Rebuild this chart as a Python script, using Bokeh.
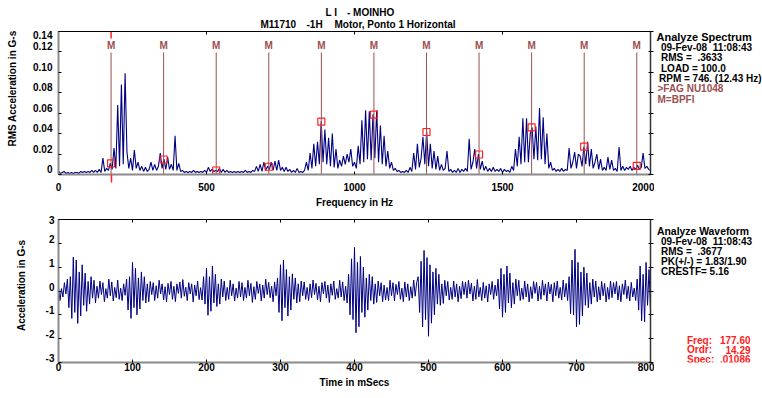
import numpy as np
from math import pi
from bokeh.plotting import figure
from bokeh.models import Range1d, LinearAxis, FixedTicker
from bokeh.layouts import column, row
from bokeh.embed import file_html
from bokeh.resources import INLINE
from bokeh.core.properties import value

FONT = "Liberation Sans"
NAVY = "#000080"
BROWN = "#9b4f4f"
RED = "#ff2020"
NB = "\u00a0"

# ---------------- data ----------------
spec_step_hz = 6.25
spec_amp = [
    .003, .001, .002, .003, .001, .002, .001, .002, .001, .002, .002, .001, .003, .002, .003, .002, .003, .002, .004, .002, .004, .002, .005,
    .002, .016, .003, .006, .004, .011, .005, .026, .006, .068, .008, .088, .010, .099, .022, .006, .016, .004, .024, .006, .012, .004, .008, .003,
    .007, .003, .005, .012, .004, .010, .004, .008, .021, .006, .015, .005, .017, .005, .010, .004, .038, .004, .011, .003, .004, .002,
    .003, .002, .003, .002, .004, .002, .003, .002, .003, .002, .004, .002, .007, .003,
    .005, .003, .004, .003, .006, .002, .005, .002, .004, .002, .003, .002, .003,
    .002, .003, .002, .003, .002, .004, .002, .003, .002, .004, .003,
    .008, .003, .010, .003, .012, .004, .008, .005, .012, .004, .013, .004, .014, .004, .007, .003, .007, .003,
    .005, .002, .004, .002, .006, .002, .003, .002, .004,
    .012, .004, .021, .006, .030, .008, .032, .010, .052, .012, .044, .010, .036, .008, .040, .007, .025, .006, .014, .008, .018, .010, .020, .012,
    .025, .008, .012, .006, .028, .010, .053, .012, .063, .015, .062, .014, .059, .016, .063, .012, .048, .010, .038, .008, .023, .006,
    .012, .004, .006, .003, .004, .002, .003, .002, .004, .002, .007, .003, .021, .005, .030, .007, .016, .037, .010, .042,
    .008, .030, .006, .023, .005, .018, .004, .010, .004, .006, .023, .003, .005, .002, .004, .002, .006, .002, .005, .003, .006, .003,
    .035, .005, .012, .025, .006, .020, .005, .013, .004, .008, .003, .006, .003, .007, .003, .005, .003, .006, .002, .005, .003, .004, .002, .008,
    .004, .025, .008, .037, .010, .055, .012, .055, .012, .040, .046, .015, .047, .014, .065, .015, .056, .010, .040, .006,
    .012, .004, .006, .003, .005, .003, .006, .003, .005, .004,
    .026, .006, .012, .022, .006, .020, .018, .008, .027, .010, .032, .008, .025, .006, .012, .020, .005, .015, .004, .007, .004, .017,
    .005, .014, .004, .006, .003, .027, .004, .008, .004, .007, .005, .008, .004, .007, .005, .009, .005, .007, .021, .006, .008, .005, .004,
]
bpfi_freq = [177.6, 355.2, 532.8, 710.4, 888.0, 1065.6, 1243.2, 1420.8, 1598.4, 1776.0, 1953.6]
bpfi_amp = [.0109, .0147, .0039, .0076, .0517, .0586, .0416, .0196, .0461, .0272, .0085]
cursor_freq = 177.60

wave_step_ms = 2.0
wave_amp = [
    .15, -.4, .1, -.25, .35, -.12, .5, -.7, .6, -1.15, 1.42, -.9, 1.3, -1.36, .8, -1.05, 1.1, -.6, .75, -.85, .4, -.55, .6, -.3, .45,
    -.5, .2, -.3, .42, -.15, .35, -.45, .1, -.3, .5, -.2, .38, -.42, .15, -.28, .46, -.35, .12, -.4, .3, -.18, .5, -.8, .6, -1.15,
    1.2, -.7, .95, -1.0, .55, -.75, .8, -.4, .6, -.5, .3, -.45, .4, -.15, .35, -.4, .22, -.3, .45, -.12, .3, -.38, .18, -.45, .32,
    -.15, .4, -.35, .2, -.45, .3, -.1, .38, -.3, .48, -.22, .16, -.4, .35, -.12, .3, -.46, .25, -.2, .42, -.36, .14, -.38, .6, -.55,
    .95, -1.02, .6, -.85, 1.05, -.5, .7, -.65, .3, -.55, .5, -.25, .42, -.4, .15, -.35, .45, -.2, .3, -.42, .12, -.3, .4, -.25, .35,
    -.4, .15, -.3, .45, -.2, .32, -.48, .18, -.35, .4, -.1, .3, -.42, .25, -.3, .5, -.15, .36, -.28, .2, -.45, .38, -.2, .55, -.9,
    1.1, -1.25, 1.3, -.7, .9, -1.05, .6, -.8, .72, -.35, .55, -.5, .3, -.45, .42, -.2, .38, -.35, .15, -.4, .3, -.28, .46, -.15, .32,
    -.38, .2, -.45, .35, -.12, .4, -.3, .25, -.48, .3, -.18, .42, -.35, .1, -.3, .45, -.25, .38, -.4, .2, -.5, .7, -1.0, 1.35, -1.2,
    1.83, -1.75, 1.2, -1.5, 1.45, -.9, 1.0, -1.1, .55, -.8, .7, -.4, .6, -.55, .3, -.48, .42, -.2, .35, -.45, .25, -.38, .15, -.4, .45,
    -.2, .35, -.42, .28, -.15, .4, -.35, .12, -.45, .38, -.25, .3, -.4, .18, -.3, .46, -.22, .35, .6, -.9, 1.25, -1.5, 1.7, -1.2, 1.4,
    -1.9, 1.1, -1.35, .8, -1.0, .95, -.55, .7, -.6, .3, -.52, .45, -.2, .4, -.38, .15, -.35, .42, -.25, .3, -.45, .2, -.32, .4, -.15,
    .38, -.3, .45, -.12, .32, -.42, .2, -.35, .48, -.25, .15, -.4, .36, -.3, .22, -.46, .3, -.15, .4, -.35, .25, -.2, .5, -.75, .95,
    -1.1, .7, -.9, 1.05, -.5, .75, -.7, .35, -.55, .5, -.2, .45, -.4, .12, -.35, .42, -.25, .3, -.46, .18, -.32, .4, -.1, .36, -.42,
    .2, -.35, .45, -.18, .3, -.42, .38, -.12, .28, -.45, .35, -.2, .42, -.3, .15, -.38, .46, -.25, .32, -.4, .6, -.95, 1.3, -1.0, 1.75,
    -1.5, 1.2, -1.4, .8, -1.05, 1.0, -.6, .75, -.7, .35, -.55, .5, -.25, .42, -.45, .18, -.38, .4, -.2, .32, -.46, .15, -.35, .42, -.28,
    .35, -.12, .4, -.38, .22, -.45, .3, -.15, .46, -.32, .2, -.42, .36, -.25, .12, -.4, .5, -.8, 1.05, -1.25, .7, -1.3, 1.2, -.6, .9,
    -.8,
]

spec_xticks = [0, 500, 1000, 1500, 2000]
spec_yticks = [0, 0.02, 0.04, 0.06, 0.08, 0.10, 0.12, 0.14]
spec_ytick_labels = ["0", "0.02", "0.04", "0.06", "0.08", "0.10", "0.12", "0.14"]
wave_xticks = [0, 100, 200, 300, 400, 500, 600, 700, 800]
wave_yticks = [-3, -2, -1, 0, 1, 2, 3]
wave_ytick_labels = ["-3", "-2", "-1", "0", "1", "2", "3"]

title_line1 = ["L I", "- MOINHO"]
title_line2 = ["M11710", "-1H", "Motor, Ponto 1 Horizontal"]
spec_info = ["Analyze Spectrum", "09-Fev-08" + NB * 2 + "11:08:43", "RMS =" + NB * 2 + ".3633",
             "LOAD = 100.0", "RPM = 746. (12.43 Hz)", ">FAG NU1048", "M=BPFI"]
wave_info = ["Analyze Waveform", "09-Fev-08" + NB * 2 + "11:08:43", "RMS =" + NB * 2 + ".3677",
             "PK(+/-) = 1.83/1.90", "CRESTF= 5.16"]
cursor_names = ["Freq:", "Ordr:", "Spec:"]
cursor_values = ["177.60", "14.29", ".01086"]

spec_freq = np.arange(len(spec_amp)) * spec_step_hz
wave_time = np.arange(len(wave_amp)) * wave_step_ms

# ---------------- geometry (page pixels) ----------------
W_LEFT, W_PLOT, W_RIGHT = 27, 627, 108
H_TITLE, H_TOP, H_BOT = 30, 180, 188
H_ALL = H_TITLE + H_TOP + H_BOT
SPX = 0.14 / 143   # data per pixel, spectrum y
WPX = 6.0 / 143    # data per pixel, waveform y


def sy(py):  # page y -> spectrum data (frame 31..174)
    return (174 - py) * SPX


def text_canvas(w, h, x0, y0):
    p = figure(width=w, height=h, x_range=Range1d(x0, x0 + w), y_range=Range1d(y0 + h, y0),
               output_backend="svg", toolbar_location=None, tools="",
               x_axis_location=None, y_axis_location=None,
               min_border_left=0, min_border_right=0, min_border_top=0, min_border_bottom=0)
    p.outline_line_color = None
    p.grid.visible = False
    return p


def put(p, xs, ys, texts, color="black", size="10px", align="left", angle=0.0):
    p.text(x=xs, y=ys, text=texts, text_font=value(FONT), text_font_style="bold",
           text_font_size=size, text_color=color, text_align=align,
           text_baseline="middle", angle=angle)


def font(ax, size="10px"):
    ax.major_label_text_font = FONT
    ax.major_label_text_font_style = "bold"
    ax.major_label_text_font_size = size
    ax.major_label_text_color = "black"
    ax.axis_label_text_font = FONT
    ax.axis_label_text_font_style = "bold"
    ax.axis_label_text_font_size = size
    ax.axis_label_text_color = "black"


def plot_fig(height, top, xr, yr, xticks, yticks, ylabels, ylab_off, ylab_standoff,
             xlabel, minor_x=None):
    p = figure(width=W_PLOT, height=height, x_range=Range1d(*xr), y_range=Range1d(*yr),
               output_backend="svg", toolbar_location=None, tools="",
               min_border_left=31, min_border_right=4, min_border_top=top,
               min_border_bottom=36)
    p.grid.visible = False
    p.outline_line_color = None
    xa = p.xaxis[0]
    xa.ticker = FixedTicker(ticks=xticks, minor_ticks=minor_x or [])
    xa.axis_line_color = "#8a8a8a"
    xa.axis_line_width = 2
    xa.major_tick_in, xa.major_tick_out = 3, 0
    xa.major_tick_line_color = "black"
    xa.minor_tick_in, xa.minor_tick_out = 0, 8
    xa.minor_tick_line_color = RED
    xa.minor_tick_line_width = 1.5
    xa.major_label_standoff = 0
    xa.axis_label = xlabel
    xa.axis_label_standoff = 3
    font(xa)
    ya = p.yaxis[0]
    ya.ticker = FixedTicker(ticks=[], minor_ticks=yticks)
    ya.axis_line_color = "#8a8a8a"
    ya.axis_line_width = 2
    ya.minor_tick_in, ya.minor_tick_out = 3, 0
    ya.minor_tick_line_color = "black"
    ya.major_label_standoff = 0
    pos = [v + o for v, o in zip(yticks, ylab_off)]
    la = LinearAxis(ticker=FixedTicker(ticks=pos),
                    major_label_overrides=dict(zip(pos, ylabels)))
    la.axis_line_color = None
    la.major_tick_line_color = None
    la.minor_tick_line_color = None
    la.major_tick_in = la.major_tick_out = 0
    la.major_label_standoff = ylab_standoff
    font(la)
    p.add_layout(la, "left")
    ta = LinearAxis(ticker=FixedTicker(ticks=[], minor_ticks=xticks))
    ta.axis_line_color = "black"
    ta.minor_tick_in, ta.minor_tick_out = 3, 0
    ta.minor_tick_line_color = "black"
    ta.major_label_standoff = 0
    p.add_layout(ta, "above")
    ra = LinearAxis(ticker=FixedTicker(ticks=[], minor_ticks=yticks))
    ra.axis_line_color = "#333333"
    ra.axis_line_width = 1.5
    ra.minor_tick_in, ra.minor_tick_out = 2, 3
    ra.minor_tick_line_color = "black"
    ra.major_label_standoff = 0
    p.add_layout(ra, "right")
    return p


# ---------------- left strip (axis titles) ----------------
lf = text_canvas(W_LEFT, H_ALL, 0, 0)
put(lf, [12], [88], ["RMS Acceleration in G-s"], align="center", angle=pi / 2)
put(lf, [20.8], [285], ["Acceleration in G-s"], align="center", angle=pi / 2)

# ---------------- title ----------------
tf = text_canvas(W_PLOT + W_RIGHT, H_TITLE, W_LEFT, 0)
put(tf, [325, 346.5], [11.7, 11.7], title_line1)
put(tf, [260, 306, 334], [24.3, 24.3, 24.3], title_line2)

# ---------------- spectrum ----------------
spec_off = [5.5 * SPX] * (len(spec_yticks) - 1) + [-1.7 * SPX]
p1 = plot_fig(H_TOP, 1, (0, 2000), (0, 0.14), spec_xticks, spec_yticks,
              spec_ytick_labels, spec_off, 6, "Frequency in Hz", minor_x=[cursor_freq])
p1.line(spec_freq, spec_amp, line_color=NAVY, line_width=1.1)
p1.segment(x0=bpfi_freq, y0=0, x1=bpfi_freq, y1=sy(52), line_color=BROWN, line_width=1)
p1.segment(x0=[cursor_freq], y0=[0.14], x1=[cursor_freq], y1=[sy(38)],
           line_color=RED, line_width=1.5)
p1.text(x=bpfi_freq, y=sy(45), text=value("M"), text_font=value(FONT),
        text_font_style="bold", text_font_size="10px", text_color=BROWN,
        text_align="center", text_baseline="middle")
p1.scatter(x=bpfi_freq, y=bpfi_amp, marker="square", size=7, line_color=RED,
           fill_color=None, line_width=1.2)

r1 = text_canvas(W_RIGHT, H_TOP, 654, H_TITLE)
put(r1, [656], [37], spec_info[:1], size="11px")
put(r1, [660.5] * 3, [50, 63, 76], spec_info[1:4])
put(r1, [658.5], [89], spec_info[4:5])
put(r1, [657] * 2, [102, 115], spec_info[5:], color=BROWN)

# ---------------- waveform ----------------
wave_off = [4.5 * WPX] * (len(wave_yticks) - 1) + [-0.3 * WPX]
p2 = plot_fig(H_BOT, 9, (0, 800), (-3, 3), wave_xticks, wave_yticks,
              wave_ytick_labels, wave_off, 4, "Time in mSecs")
p2.line(wave_time, wave_amp, line_color=NAVY, line_width=1)

r2 = text_canvas(W_RIGHT, H_BOT, 654, H_TITLE + H_TOP)
put(r2, [656.5], [226], wave_info[:1], size="10.4px")
put(r2, [660.5] * 4, [239, 252, 265, 278], wave_info[1:])
put(r2, [686.5] * 3, [369, 381.5, 394], cursor_names, color=RED)
put(r2, [750] * 3, [369, 381.5, 394], cursor_values, color=RED, align="right")

layout = row(lf, column(tf, row(p1, r1), row(p2, r2)))
open("out.html", "w").write(file_html(layout, INLINE))
